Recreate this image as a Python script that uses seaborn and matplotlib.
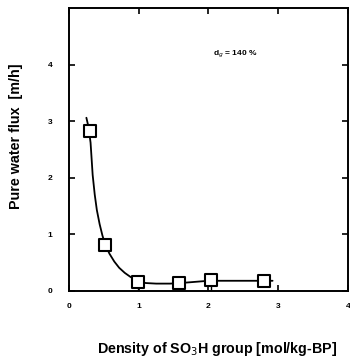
import numpy as np
import pandas as pd
import matplotlib.pyplot as plt
import seaborn as sns

# Measured points
density = [0.30, 0.52, 0.99, 1.58, 2.03, 2.80]
flux = [2.82, 0.82, 0.16, 0.14, 0.19, 0.18]

# Fitted curve
curve_x = [0.25, 0.28, 0.31, 0.34, 0.37, 0.40, 0.44, 0.48, 0.52, 0.58, 0.65,
           0.72, 0.80, 0.88, 0.95, 1.02, 1.10, 1.25, 1.45, 1.60, 2.00, 2.40, 2.80, 2.92]
curve_y = [3.06, 2.90, 2.62, 2.05, 1.70, 1.43, 1.18, 0.98, 0.82, 0.66, 0.52,
           0.41, 0.32, 0.25, 0.20, 0.17, 0.14, 0.13, 0.13, 0.14, 0.18, 0.18, 0.18, 0.18]

x_ticks = [0, 1, 2, 3, 4]
y_ticks = [0, 1, 2, 3, 4]

sns.set_style("ticks", {'text.color': 'black', 'xtick.color': 'black',
                        'ytick.color': 'black', 'axes.labelcolor': 'black',
                        'axes.edgecolor': 'black'})
plt.rcParams['font.family'] = ['Liberation Sans', 'DejaVu Sans']

fig = plt.figure(figsize=(3.5, 3.61), dpi=100)
ax = fig.add_axes([0.197, 0.194, 0.797, 0.784])

curve = pd.DataFrame({'x': curve_x, 'y': curve_y})
sns.lineplot(data=curve, x='x', y='y', sort=False, estimator=None,
             color='black', linewidth=1.3, ax=ax)

pts = pd.DataFrame({'x': density, 'y': flux})
# short drop lines under two of the points
ax.vlines([density[2], density[4]], 0, [flux[2], flux[4]], color='black', linewidth=1.0)
sns.scatterplot(data=pts, x='x', y='y', marker='s', s=80, facecolor='white',
                edgecolor='black', linewidth=1.5, zorder=5, ax=ax)

ax.set_xlim(0, 4)
ax.set_ylim(0, 5)
ax.set_xticks(x_ticks)
ax.set_yticks(y_ticks)
ax.set_xticklabels([str(t) for t in x_ticks], fontsize=6, fontweight='bold')
ax.set_yticklabels([str(t) for t in y_ticks], fontsize=6, fontweight='bold')
ax.tick_params(direction='in', length=4, width=1.2, top=True, right=True, pad=9,
               colors='black')
ax.tick_params(axis='y', pad=12)
for s in ax.spines.values():
    s.set_linewidth(1.4)
    s.set_visible(True)

ax.set_xlabel('Density of SO$_3$H group [mol/kg-BP]', fontsize=10.3, fontweight='bold',
              color='black')
ax.set_ylabel('Pure water flux  [m/h]', fontsize=10.3, fontweight='bold', color='black')
ax.xaxis.set_label_coords(0.53, -0.174)
ax.yaxis.set_label_coords(-0.165, 0.545)

ax.text(2.06, 4.18, 'd$_g$ = 140 %', fontsize=6, fontweight='bold', va='center',
        color='black')

plt.savefig('out.png', dpi=100)
